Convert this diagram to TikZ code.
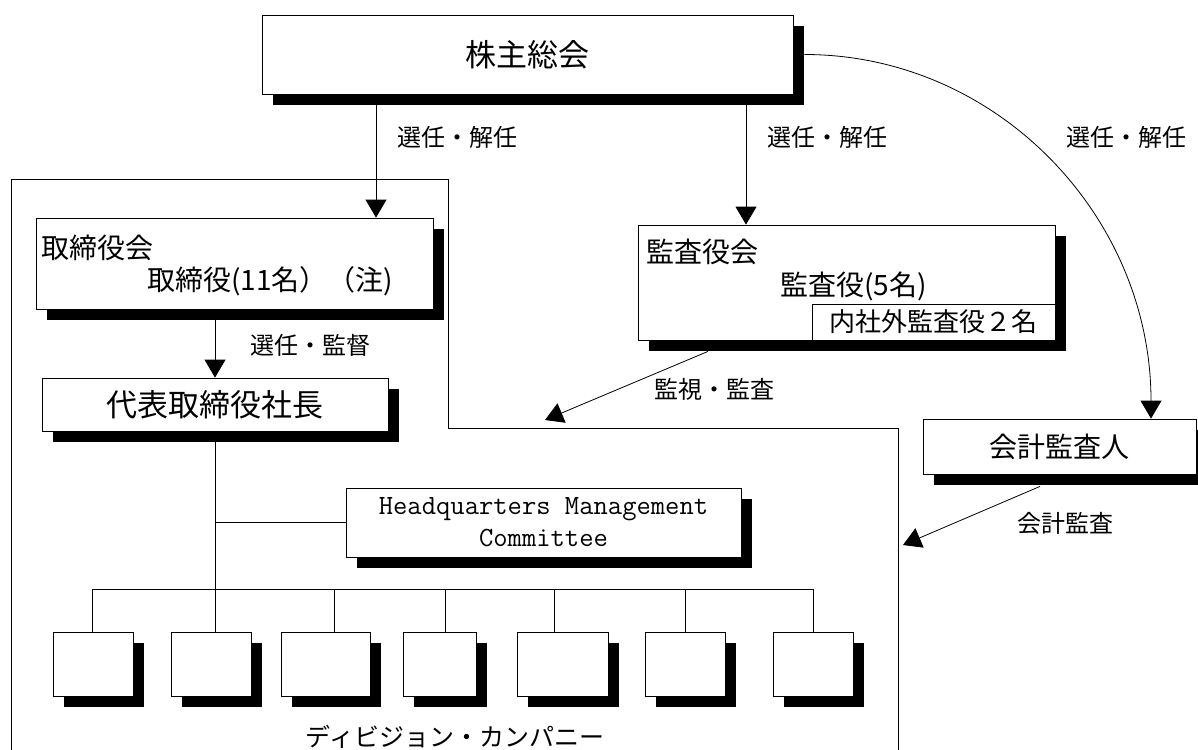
\documentclass[tikz,border=0pt]{standalone}
\usepackage{fontspec}
\newfontfamily\jpfont{Noto Sans CJK JP}
\usetikzlibrary{arrows.meta}
\usetikzlibrary{shadows}

\begin{document}
\begin{tikzpicture}[x=1pt,y=-1pt,
	box/.style={draw, fill=white, line width=0.8pt, inner sep=0pt, drop shadow={shadow xshift=11pt, shadow yshift=-11pt, fill=black, opacity=1}},
	subbox/.style={draw, fill=white, line width=0.8pt, inner sep=0pt},
	arr/.style={-{Triangle[width=21pt,length=18pt]}, line width=0.8pt},
	txt/.style={inner sep=0pt, font=\jpfont\fontsize{28}{32}\selectfont},
	lbl/.style={inner sep=0pt, font=\jpfont\fontsize{24}{28}\selectfont}]
	\useasboundingbox (0,0) rectangle (1198,749);
	% company frame
	\draw[line width=0.8pt] (11,760) -- (11,179) -- (448,179) -- (448,428) -- (898,428) -- (898,760);
	% boxes
	\node[box, minimum width=531pt, minimum height=79pt, font=\jpfont\fontsize{31}{36}\selectfont] (gm) at (527.5,54.5) {株主総会};
	\node[box, minimum width=397pt, minimum height=91pt] (board) at (234.5,263.5) {};
	\node[txt, anchor=west] (boardname) at (41,248) {取締役会};
	\node[txt, anchor=west] (boardnum) at (147,281) {取締役(11名）（注)};
	\node[box, minimum width=346pt, minimum height=53pt, font=\jpfont\fontsize{31}{36}\selectfont] (pres) at (215,404.5) {代表取締役社長};
	\node[box, minimum width=395pt, minimum height=69pt, align=center, font=\ttfamily\fontsize{27.8}{32}\selectfont] (hq) at (543.5,522.5) {Headquarters Management\\Committee};
	\node[box, minimum width=417pt, minimum height=115pt] (ab) at (846.5,282.5) {};
	\node[txt, anchor=west] (abname) at (646,252) {監査役会};
	\node[txt, anchor=west] (abnum) at (780,286) {監査役(5名)};
	\node[subbox, minimum width=243pt, minimum height=36pt, font=\jpfont\fontsize{26}{30}\selectfont] (about) at (933.5,322) {内社外監査役２名};
	\node[box, minimum width=273pt, minimum height=55pt, font=\jpfont\fontsize{28}{32}\selectfont] (ca) at (1059.5,446.5) {会計監査人};
	% divisions
	\foreach \l/\r/\d [count=\i] in {53/133/92, 171/251/215, 281/370/334.5, 403/476/445, 517/608/554.5, 645/725/685.5, 773/853/813}{
		\node[box, minimum width={(\r-\l)*1pt}, minimum height=64pt] (d\i) at ({(\l+\r)/2},664) {};
		\coordinate (b\i) at (\d,589);
		\draw[line width=0.8pt] (b\i) -- (b\i |- d\i.north);
	}
	\node[inner sep=0pt, font=\jpfont\fontsize{25}{30}\selectfont] (divname) at (455,737) {ディビジョン・カンパニー};
	\draw[line width=0.8pt] (pres.south) -- (pres.south |- d2.north);
	\draw[line width=0.8pt] (pres.south |- hq.west) -- (hq.west);
	\draw[line width=0.8pt] (b1) -- (b7);
	% arrows
	\coordinate (s1) at (376,0);
	\coordinate (s2) at (746,0);
	\coordinate (s3) at (1151,0);
	\coordinate (mon) at (545,420);
	\coordinate (aud) at (903,545);
	\draw[arr] (gm.south -| s1) -- (board.north -| s1);
	\draw[arr] (gm.south -| s2) -- (ab.north -| s2);
	\draw[arr] ([xshift=11pt]gm.east) .. controls +(192,0) and +(0,-203) .. (ca.north -| s3);
	\draw[arr] (board.south -| pres.north) -- (pres.north);
	\draw[arr] ([xshift=-138.5pt,yshift=-11pt]ab.south) -- (mon);
	\draw[arr] ([xshift=-19.5pt,yshift=-12pt]ca.south) -- (aud);
	% labels
	\node[lbl] (l1) at (457.5,137) {選任・解任};
	\node[lbl] (l2) at (827.5,137) {選任・解任};
	\node[lbl] (l3) at (1126,137) {選任・解任};
	\node[lbl] (l4) at (310,345) {選任・監督};
	\node[lbl] (l5) at (714,389) {監視・監査};
	\node[lbl] (l6) at (1065,523) {会計監査};
\end{tikzpicture}
\end{document}
